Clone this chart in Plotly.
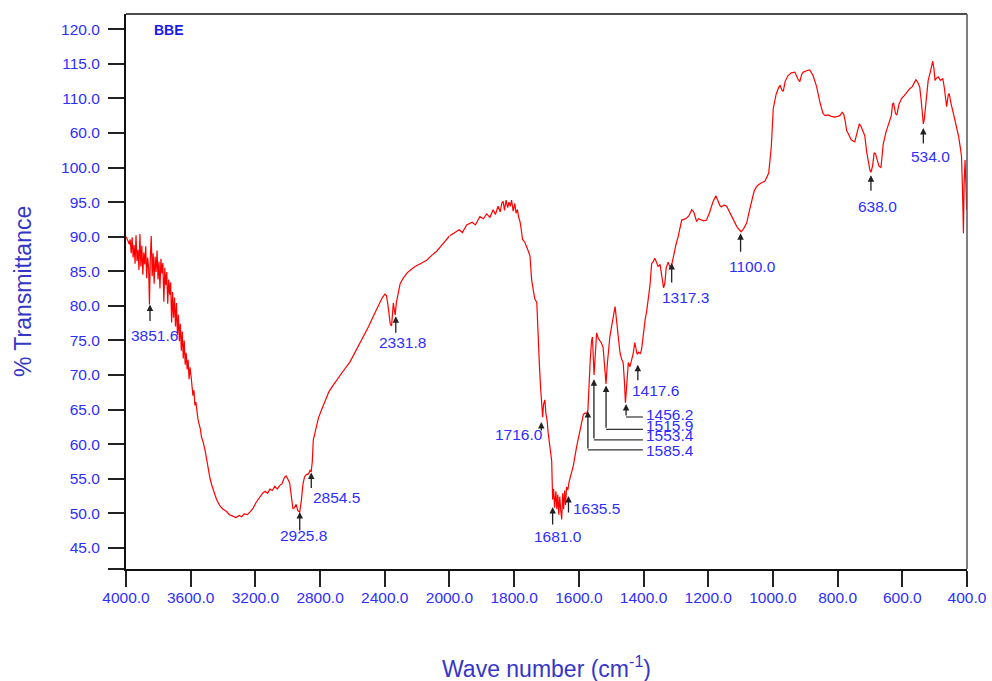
import plotly.graph_objects as go

# FTIR spectrum of BBE: wavenumber (cm-1) and % transmittance
wavenumber = [
    4000, 3993, 3986, 3980, 3974, 3968, 3962, 3956, 3950, 3944, 3938, 3932, 3926, 3920,
    3914, 3908, 3902, 3896, 3890, 3884, 3878, 3872, 3866, 3860, 3855, 3850, 3844, 3838,
    3832, 3826, 3820, 3814, 3808, 3802, 3796, 3790, 3784, 3778, 3772, 3766, 3760, 3754,
    3748, 3742, 3736, 3730, 3724, 3718, 3712, 3706, 3700, 3694, 3688, 3682, 3676, 3670,
    3664, 3658, 3652, 3646, 3640, 3634, 3628, 3622, 3616, 3610, 3604, 3598, 3592, 3586,
    3580, 3574, 3568, 3562, 3555, 3548, 3541, 3533, 3524, 3512, 3500, 3490, 3480, 3470,
    3456, 3440, 3420, 3400, 3380, 3360, 3340, 3320, 3300, 3285, 3270, 3250, 3233, 3215,
    3195, 3175, 3155, 3140, 3125, 3110, 3095, 3080, 3065, 3050, 3035, 3020, 3010, 2998,
    2988, 2978, 2968, 2958, 2948, 2938, 2926, 2916, 2906, 2896, 2884, 2872, 2862, 2855,
    2848, 2842, 2828, 2810, 2790, 2770, 2745, 2720, 2688, 2650, 2615, 2575, 2533, 2500,
    2471, 2440, 2415, 2399, 2390, 2382, 2374, 2366, 2358, 2352, 2347, 2342, 2336, 2328,
    2318, 2305, 2286, 2260, 2235, 2213, 2180, 2160, 2141, 2110, 2079, 2050, 2017, 2000,
    1988, 1970, 1960, 1947, 1930, 1920, 1906, 1895, 1885, 1875, 1865, 1858, 1850, 1843,
    1838, 1834, 1830, 1825, 1820, 1816, 1812, 1808, 1803, 1798, 1794, 1790, 1786, 1782,
    1778, 1774, 1767, 1761, 1756, 1751, 1746, 1741, 1736, 1730, 1727, 1722, 1718, 1714,
    1712, 1709, 1705, 1702, 1698, 1695, 1690, 1684, 1681, 1678, 1675, 1671, 1668, 1665,
    1662, 1659, 1656, 1653, 1650, 1647, 1644, 1641, 1638, 1634, 1630, 1624, 1617, 1607,
    1597, 1590, 1586, 1580, 1576, 1572, 1569, 1565, 1561, 1558, 1553, 1549, 1545, 1540,
    1535, 1530, 1525, 1520, 1516, 1512, 1508, 1504, 1498, 1493, 1488, 1485, 1483, 1478,
    1473, 1468, 1463, 1459, 1456, 1452, 1447, 1442, 1437, 1432, 1427, 1423, 1420, 1415,
    1410, 1406, 1400, 1395, 1390, 1385, 1380, 1375, 1370, 1365, 1360, 1355, 1349, 1343,
    1338, 1334, 1330, 1324, 1318, 1313, 1308, 1300, 1293, 1287, 1282, 1275, 1267, 1260,
    1251, 1244, 1236, 1230, 1226, 1215, 1205, 1195, 1185, 1176, 1170, 1164, 1159, 1151,
    1143, 1135, 1128, 1120, 1112, 1104, 1098, 1090, 1081, 1074, 1066, 1058, 1051, 1045,
    1035, 1025, 1013, 1005, 999, 990, 982, 978, 972, 968, 962, 953, 943, 932,
    924, 917, 911, 906, 896, 886, 876, 865, 855, 845, 838, 829, 820, 810,
    800, 793, 786, 781, 776, 772, 768, 758, 747, 740, 733, 728, 722, 716,
    710, 704, 700, 697, 692, 687, 683, 677, 672, 666, 662, 659, 650, 641,
    634, 630, 627, 621, 617, 610, 602, 594, 585, 577, 569, 564, 558, 552,
    546, 541, 537, 535, 532, 527, 520, 514, 506, 502, 499, 495, 489, 482,
    475, 470, 466, 463, 458, 455, 450, 446, 442, 437, 432, 426, 421, 417,
    414, 411, 409, 406, 403, 401, 400,
]
transmittance = [
    90.0, 89.7, 89.3, 88.9, 89.6, 87.6, 89.9, 87.0, 88.8, 86.1, 90.2, 86.5, 88.1, 85.2,
    90.4, 85.7, 88.7, 84.5, 87.7, 86.0, 88.6, 84.0, 87.0, 85.4, 80.2, 86.6, 90.1, 84.3,
    87.6, 83.2, 87.1, 84.9, 88.0, 83.8, 86.4, 82.5, 86.8, 84.7, 86.2, 80.6, 85.5, 83.0,
    84.9, 80.3, 83.8, 81.6, 83.4, 77.6, 82.0, 78.3, 81.2, 77.0, 80.4, 75.8, 78.7, 74.9,
    77.4, 73.5, 76.3, 72.4, 75.0, 71.5, 73.2, 70.8, 72.2, 69.4, 71.1, 69.9, 68.6, 67.0,
    67.8, 65.6, 66.1, 64.4, 63.6, 62.9, 62.3, 61.0, 60.4, 59.2, 57.4, 56.0, 55.0, 54.1,
    53.0, 52.0, 51.1, 50.6, 50.3, 49.8, 49.6, 49.4, 49.7, 49.5, 49.9, 49.8, 50.2, 50.7,
    51.6, 52.3, 52.9, 53.2, 52.9, 53.5, 53.3, 53.9, 53.5, 54.0, 54.3, 55.2, 55.4, 54.9,
    54.4, 52.5, 50.7, 50.8, 51.3, 50.4, 50.2, 51.8, 54.2, 55.3, 55.6, 55.7, 56.2, 56.0,
    57.5, 60.6, 62.2, 63.8, 65.0, 66.1, 67.6, 68.5, 69.6, 70.8, 71.9, 73.6, 75.6, 77.0,
    78.5, 80.0, 81.2, 81.7, 81.5, 80.4, 78.5, 77.4, 77.1, 78.9, 80.4, 79.6, 78.7, 80.5,
    81.8, 83.2, 84.0, 84.8, 85.3, 85.7, 86.1, 86.4, 86.6, 87.3, 87.9, 88.7, 89.6, 90.1,
    90.5, 91.0, 90.6, 91.7, 92.1, 91.7, 92.9, 92.6, 93.3, 92.8, 93.9, 93.2, 94.4, 93.6,
    94.9, 95.1, 93.8, 95.3, 94.2, 95.0, 94.4, 95.3, 93.7, 94.8, 93.4, 93.9, 92.8, 92.2,
    91.0, 89.6, 89.2, 88.6, 87.9, 87.2, 83.8, 82.3, 81.0, 80.5, 75.8, 71.5, 68.0, 64.8,
    63.9, 65.8, 66.4, 64.5, 63.4, 61.7, 59.5, 57.6, 52.0, 53.5, 50.8, 53.2, 50.6, 52.7,
    49.8, 52.4, 50.4, 49.1, 52.9, 50.6, 53.3, 51.2, 53.8, 53.4, 54.6, 55.6, 56.9, 59.6,
    62.1, 63.6, 64.3, 64.5, 64.4, 64.9, 68.5, 72.0, 74.8, 75.5, 70.0, 74.3, 76.1, 75.3,
    75.0, 74.6, 74.0, 71.2, 68.7, 71.6, 74.0, 75.6, 77.2, 78.6, 79.9, 78.6, 77.6, 75.1,
    73.3, 72.3, 71.8, 69.0, 66.0, 68.5, 71.8, 71.2, 72.2, 73.1, 74.7, 73.9, 73.0, 73.3,
    73.1, 73.7, 76.5, 78.0, 79.3, 81.3, 83.0, 86.1, 86.4, 86.9, 86.3, 85.7, 86.0, 84.3,
    82.6, 83.3, 85.5, 86.3, 85.6, 85.9, 87.2, 88.8, 90.0, 91.5, 92.4, 92.5, 92.7, 93.0,
    93.9, 93.5, 92.2, 92.6, 92.5, 92.3, 92.4, 93.6, 95.1, 95.9, 95.2, 94.5, 94.3, 94.6,
    94.4, 93.6, 92.9, 92.1, 91.5, 91.0, 90.7, 91.2, 92.0, 93.5, 95.3, 96.6, 97.2, 97.5,
    97.8, 98.0, 99.2, 103.0, 108.5, 110.6, 111.6, 111.9, 111.2, 111.0, 112.5, 113.3, 113.7, 113.8,
    112.9, 112.4, 113.5, 113.8, 114.0, 114.1, 113.3, 111.7, 109.5, 107.8, 107.5, 107.6, 107.4, 107.3,
    107.4, 107.5, 108.0, 107.7, 106.6, 105.3, 105.0, 104.0, 103.7, 105.0, 106.3, 106.0, 105.2, 104.6,
    102.2, 100.5, 99.6, 99.3, 100.2, 102.1, 102.0, 101.0, 100.2, 100.0, 101.7, 103.4, 105.2, 106.7,
    107.5, 109.2, 109.3, 107.8, 107.6, 109.2, 110.0, 110.4, 111.0, 111.4, 111.7, 112.1, 112.7, 112.3,
    111.6, 109.4, 106.7, 106.3, 107.0, 109.8, 112.6, 113.7, 115.4, 114.2, 112.6, 112.9, 113.1, 112.6,
    112.9, 111.5, 109.8, 108.8, 110.5, 110.7, 109.4, 108.4, 107.8, 106.8, 105.9, 104.5, 103.0, 101.6,
    97.0, 90.5, 97.5, 101.1, 97.0, 93.9, 94.5,
]

# peak labels: text, arrow position (cm-1), arrow tip (%T)
peak_text = ["3851.6", "2925.8", "2854.5", "2331.8", "1716.0", "1681.0", "1635.5",
             "1417.6", "1317.3", "1100.0", "638.0", "534.0"]
peak_pos = [3851.6, 2925.8, 2854.5, 2331.8, 1716.0, 1681.0, 1632.0,
            1417.6, 1313.0, 1100.0, 697.0, 535.0]
peak_tip = [80.2, 50.2, 55.9, 78.5, 63.2, 50.9, 52.5, 71.5, 86.2, 90.5, 98.9, 105.7]

# crowded peaks labelled through elbow leaders
elbow_text = ["1585.4", "1553.4", "1515.9", "1456.2"]
elbow_pos = [1572.0, 1553.4, 1515.9, 1454.0]
elbow_tip = [64.8, 69.4, 68.5, 65.8]
elbow_corner = [59.17, 60.61, 62.15, 63.93]
elbow_end = 1402.0

y_ticks = [42, 45, 50, 55, 60, 65, 70, 75, 80, 85, 90, 95, 100, 105, 110, 115, 120]
y_ticktext = ["", "45.0", "50.0", "55.0", "60.0", "65.0", "70.0", "75.0", "80.0", "85.0",
              "90.0", "95.0", "100.0", "60.0", "110.0", "115.0", "120.0"]
x_ticks_hi = [4000, 3600, 3200, 2800, 2400]
x_ticks_lo = [2000, 1800, 1600, 1400, 1200, 1000, 800, 600, 400]

TICK_BLUE = "#2e2eff"
TITLE_BLUE = "#3535c8"
FONT = "Liberation Sans, Arial, sans-serif"

# the x scale is compressed above 2000 cm-1: two panels share the y axis
hi = [(w, t) for w, t in zip(wavenumber, transmittance) if w >= 2000]
lo = [(w, t) for w, t in zip(wavenumber, transmittance) if w <= 2000]

fig = go.Figure()
fig.add_trace(go.Scatter(x=[p[0] for p in hi], y=[p[1] for p in hi], mode="lines",
                         line=dict(color="#ff0000", width=1.2), xaxis="x", yaxis="y",
                         showlegend=False, hoverinfo="skip"))
fig.add_trace(go.Scatter(x=[p[0] for p in lo], y=[p[1] for p in lo], mode="lines",
                         line=dict(color="#ff0000", width=1.2), xaxis="x2", yaxis="y",
                         showlegend=False, hoverinfo="skip"))

split = 5 / 13
axis_style = dict(showline=True, linecolor="#111", linewidth=2, ticks="outside",
                  ticklen=16, tickwidth=2, tickcolor="#222", showgrid=False,
                  zeroline=False, tickformat=".1f", ticklabeloverflow="allow",
                  ticklabelstandoff=-3, automargin=False,
                  tickfont=dict(family=FONT, size=15.5, color=TICK_BLUE))

fig.update_layout(
    width=992, height=681,
    margin=dict(l=126, r=25, t=14, b=112),
    paper_bgcolor="white", plot_bgcolor="white",
    xaxis=dict(domain=[0, split], range=[4000, 2000], tickvals=x_ticks_hi,
               anchor="y", **axis_style),
    xaxis2=dict(domain=[split, 1], range=[2000, 400], tickvals=x_ticks_lo,
                anchor="y", **axis_style),
    yaxis=dict(range=[41.95, 122.2], tickvals=y_ticks, ticktext=y_ticktext,
               anchor="x", showline=True, linecolor="#111", linewidth=2,
               ticks="outside", ticklen=16, tickwidth=2, tickcolor="#222",
               showgrid=False, zeroline=False, ticklabelstandoff=5, automargin=False,
               tickfont=dict(family=FONT, size=15.5, color=TICK_BLUE)),
)

# frame: top and right edges
fig.add_shape(type="line", xref="paper", yref="paper", x0=0, x1=1, y0=1, y1=1,
              line=dict(color="#111", width=1.5))
fig.add_shape(type="line", xref="paper", yref="paper", x0=1, x1=1, y0=0, y1=1,
              line=dict(color="#555", width=1.5))

# label layout: arrow length px, anchor, dx, dy (px, down positive)
label_layout = [
    (18, "center", 4, 31), (20, "center", 4, 24), (17, "left", 0, 25),
    (18, "center", 7, 26), (10, "right", 4, 12), (19, "center", 5, 29),
    (18, "left", 3, 12), (17, "left", -8, 26), (21, "center", 14, 35),
    (20, "center", 12, 33), (17, "center", 7, 31), (17, "center", 7, 28),
]
lab_font = dict(family=FONT, size=15.5, color=TICK_BLUE)
for txt, pos, tip, (alen, anc, dx, dy) in zip(peak_text, peak_pos, peak_tip, label_layout):
    xr = "x" if pos >= 2000 else "x2"
    fig.add_annotation(x=pos, y=tip, xref=xr, yref="y", text="", showarrow=True,
                       ax=0, ay=alen, arrowhead=2, arrowsize=1, arrowwidth=1.3,
                       arrowcolor="#222")
    fig.add_annotation(x=pos, y=tip, xref=xr, yref="y", text=txt, showarrow=False,
                       xanchor=anc, yanchor="middle", xshift=dx, yshift=-dy,
                       font=lab_font)

elbow_dy = [-1, 4, 4, 2.7]
for txt, pos, tip, corner, dy in zip(elbow_text, elbow_pos, elbow_tip, elbow_corner, elbow_dy):
    fig.add_annotation(x=pos, y=tip, xref="x2", yref="y", text="", showarrow=True,
                       axref="x2", ayref="y", ax=pos, ay=corner, arrowhead=2,
                       arrowsize=1, arrowwidth=1.3, arrowcolor="#222")
    fig.add_shape(type="line", xref="x2", yref="y", x0=pos, x1=elbow_end,
                  y0=corner, y1=corner, line=dict(color="#333", width=1.2))
    fig.add_annotation(x=elbow_end, y=corner, xref="x2", yref="y", text=txt,
                       showarrow=False, xanchor="left", yanchor="middle",
                       xshift=1, yshift=dy, font=lab_font)

# sample name and axis titles
fig.add_annotation(x=0.031, y=0.971, xref="paper", yref="paper", text="<b>BBE</b>",
                   showarrow=False, xanchor="left", yanchor="middle",
                   font=dict(family=FONT, size=14, color="#1a1aee"))
fig.add_annotation(x=-0.123, y=0.5, xref="paper", yref="paper", text="% Transmittance",
                   textangle=-90, showarrow=False, xanchor="center", yanchor="middle",
                   font=dict(family=FONT, size=23, color=TITLE_BLUE))
fig.add_annotation(x=0.5, y=-0.176, xref="paper", yref="paper",
                   text="Wave number (cm<sup>-1</sup>)", showarrow=False,
                   xanchor="center", yanchor="middle",
                   font=dict(family=FONT, size=23, color=TITLE_BLUE))

# drop the default 8px page margin so the figure fills the window
fig.write_html("out.html", config={"displayModeBar": False},
               post_script="document.body.style.margin = '0';")
